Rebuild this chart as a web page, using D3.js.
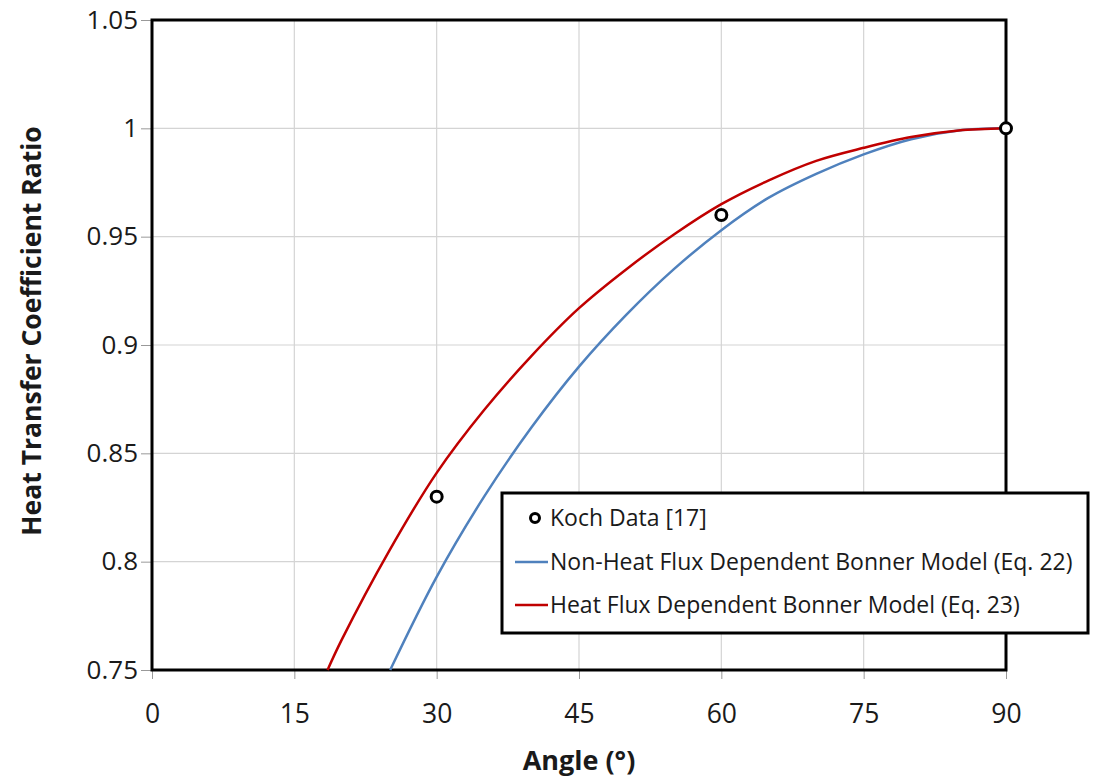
<!DOCTYPE html>
<html>
<head>
<meta charset="utf-8">
<script src="https://cdn.jsdelivr.net/npm/d3@7"></script>
<style>
  body { margin: 0; background: #fff; }
  svg text { font-family: "Open Sans", sans-serif; fill: #1a1a1a; }
</style>
</head>
<body>
<div id="chart"></div>
<script>
// values
const xTicks = [0, 15, 30, 45, 60, 75, 90];
const yTicks = [0.75, 0.8, 0.85, 0.9, 0.95, 1, 1.05];
const yTickLabels = ["0.75", "0.8", "0.85", "0.9", "0.95", "1", "1.05"];

const kochAngle = [30, 60, 90];
const kochRatio = [0.83, 0.96, 1.0];

// Non-heat flux dependent Bonner model (Eq. 22) - blue
const blueAngle = [25.1, 30, 35, 40, 45, 50, 55, 60, 65, 70, 75, 80, 85, 90];
const blueRatio = [0.750, 0.793, 0.830, 0.862, 0.890, 0.914, 0.935, 0.953, 0.968, 0.979, 0.988, 0.995, 0.999, 1.0];

// Heat flux dependent Bonner model (Eq. 23) - red
const redAngle = [18.5, 20, 25, 30, 35, 40, 45, 50, 55, 60, 65, 70, 75, 80, 85, 90];
const redRatio = [0.750, 0.764, 0.805, 0.841, 0.870, 0.895, 0.917, 0.935, 0.951, 0.965, 0.976, 0.985, 0.991, 0.996, 0.999, 1.0];

const legendLabels = ["Koch Data [17]", "Non-Heat Flux Dependent Bonner Model (Eq. 22)", "Heat Flux Dependent Bonner Model (Eq. 23)"];

const W = 1100, H = 780;
const margin = { top: 20, right: 94, bottom: 110, left: 152 };
const width = W - margin.left - margin.right;
const height = H - margin.top - margin.bottom;

const svg = d3.select("#chart").append("svg")
  .attr("width", W).attr("height", H);
const g = svg.append("g").attr("transform", `translate(${margin.left},${margin.top})`);

const x = d3.scaleLinear().domain([0, 90]).range([0, width]);
const y = d3.scaleLinear().domain([0.75, 1.05]).range([height, 0]);

// gridlines
g.append("g").selectAll("line").data(xTicks).join("line")
  .attr("x1", d => x(d)).attr("x2", d => x(d))
  .attr("y1", 0).attr("y2", height)
  .attr("stroke", "#d4d4d4").attr("stroke-width", 1.2);
g.append("g").selectAll("line").data(yTicks).join("line")
  .attr("x1", 0).attr("x2", width)
  .attr("y1", d => y(d)).attr("y2", d => y(d))
  .attr("stroke", "#d4d4d4").attr("stroke-width", 1.2);

// axes
const xAxis = g.append("g").attr("transform", `translate(0,${height})`)
  .call(d3.axisBottom(x).tickValues(xTicks).tickSize(9).tickPadding(25));
xAxis.select(".domain").remove();
xAxis.selectAll("line").attr("stroke", "#999");
xAxis.selectAll("text").style("font-size", "26.5px").attr("fill", "#1a1a1a");

const yAxis = g.append("g")
  .call(d3.axisLeft(y).tickValues(yTicks).tickSize(11).tickPadding(3)
    .tickFormat((d, i) => yTickLabels[i]));
yAxis.select(".domain").remove();
yAxis.selectAll("line").attr("stroke", "#999");
yAxis.selectAll("text").style("font-size", "26px").attr("fill", "#1a1a1a");

// plot border
g.append("rect")
  .attr("x", 0).attr("y", 0).attr("width", width).attr("height", height)
  .attr("fill", "none").attr("stroke", "#000").attr("stroke-width", 3);

// curves
const line = d3.line().x(d => x(d[0])).y(d => y(d[1])).curve(d3.curveCatmullRom);
g.append("path").datum(blueAngle.map((a, i) => [a, blueRatio[i]]))
  .attr("d", line).attr("fill", "none")
  .attr("stroke", "#4f81bd").attr("stroke-width", 2.5);
g.append("path").datum(redAngle.map((a, i) => [a, redRatio[i]]))
  .attr("d", line).attr("fill", "none")
  .attr("stroke", "#c00000").attr("stroke-width", 2.5);

// Koch data markers
g.selectAll("circle.koch").data(kochAngle.map((a, i) => [a, kochRatio[i]])).join("circle")
  .attr("class", "koch")
  .attr("cx", d => x(d[0])).attr("cy", d => y(d[1]))
  .attr("r", 5.5).attr("fill", "#fff")
  .attr("stroke", "#000").attr("stroke-width", 3);

// axis titles
svg.append("text")
  .attr("x", margin.left + width / 2).attr("y", 770)
  .attr("text-anchor", "middle")
  .style("font-size", "27px").style("font-weight", "700")
  .text("Angle (°)");
svg.append("text")
  .attr("transform", `translate(41,331) rotate(-90)`)
  .attr("text-anchor", "middle")
  .style("font-size", "26.5px").style("font-weight", "700")
  .text("Heat Transfer Coefficient Ratio");

// legend
const lg = svg.append("g").attr("transform", "translate(502,493)");
lg.append("rect").attr("width", 586).attr("height", 140)
  .attr("fill", "#fff").attr("stroke", "#000").attr("stroke-width", 3);
const rows = [25, 69, 112];
lg.append("circle").attr("cx", 33).attr("cy", rows[0]).attr("r", 4.5)
  .attr("fill", "#fff").attr("stroke", "#000").attr("stroke-width", 3);
lg.append("line").attr("x1", 13).attr("x2", 46).attr("y1", rows[1]).attr("y2", rows[1])
  .attr("stroke", "#4f81bd").attr("stroke-width", 2.5);
lg.append("line").attr("x1", 13).attr("x2", 46).attr("y1", rows[2]).attr("y2", rows[2])
  .attr("stroke", "#c00000").attr("stroke-width", 2.5);
lg.selectAll("text.leg").data(legendLabels).join("text")
  .attr("class", "leg")
  .attr("x", 48).attr("y", (d, i) => rows[i] + 8)
  .style("font-size", "23px")
  .text(d => d);
</script>
</body>
</html>
